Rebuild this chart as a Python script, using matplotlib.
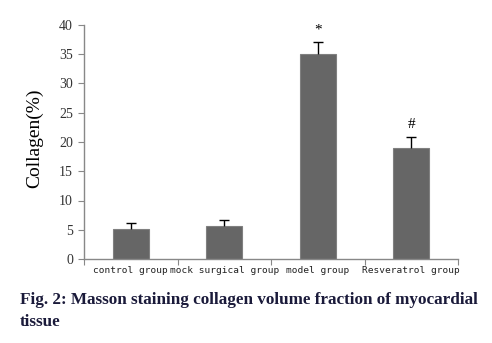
import matplotlib
matplotlib.use("Agg")
import matplotlib.pyplot as plt
import numpy as np

categories = ["control group", "mock surgical group", "model group", "Resveratrol group"]
values = [5.1, 5.6, 35.0, 19.0]
errors = [1.0, 1.0, 2.1, 1.9]
marks = ["", "", "*", "#"]
yticks = [0, 5, 10, 15, 20, 25, 30, 35, 40]

fig = plt.figure(figsize=(4.92, 3.43), dpi=100)
ax = fig.add_axes([84/492, 1-259/343, (458-84)/492, (259-25)/343])

x = np.arange(len(categories))
v = np.array(values)
e = np.array(errors)
ax.bar(x, v, width=0.385, color="#666666", edgecolor="#808080", linewidth=0.8, zorder=2)
ax.vlines(x, v, v + e, color="black", linewidth=1.0, zorder=3)
ax.hlines(v + e, x - 0.055, x + 0.055, color="black", linewidth=1.0, zorder=3)
for xi, vi, ei, m in zip(x, v, e, marks):
    if m:
        ax.text(xi, vi + ei + 1.0, m, ha="center", va="bottom", fontsize=11,
                family="Liberation Serif", color="black")

ax.set_xlim(-0.5, len(categories) - 0.5)
ax.set_ylim(0, 40)
ax.set_yticks(yticks)
ax.set_yticklabels([str(t) for t in yticks], family="Liberation Serif", fontsize=10, color="#333333")
ax.set_xticks([i + 0.5 for i in range(-1, len(categories))])
ax.set_xticklabels([])
ax.set_xticks(x, minor=True)
ax.set_xticklabels(categories, minor=True, family="DejaVu Sans Mono", fontsize=6.8, color="#222222")
ax.tick_params(axis="x", which="minor", length=0, pad=5)
ax.tick_params(axis="x", which="major", length=4, color="#888888", direction="out")
ax.tick_params(axis="y", length=4, color="#888888", direction="out", pad=4)
for s in ["top", "right"]:
    ax.spines[s].set_visible(False)
for s in ["left", "bottom"]:
    ax.spines[s].set_color("#888888")
    ax.spines[s].set_linewidth(1.0)

fig.text(35/492, 1-138/343, "Collagen(%)", rotation=90, ha="center", va="center",
         family="Liberation Serif", fontsize=14)
fig.text(20/492, 1-300/343, "Fig. 2: Masson staining collagen volume fraction of myocardial",
         ha="left", va="center", family="Liberation Serif", fontweight="bold", fontsize=12.3, color="#1a1a3a")
fig.text(20/492, 1-322/343, "tissue",
         ha="left", va="center", family="Liberation Serif", fontweight="bold", fontsize=12.3, color="#1a1a3a")

fig.savefig("out.png", dpi=100)
